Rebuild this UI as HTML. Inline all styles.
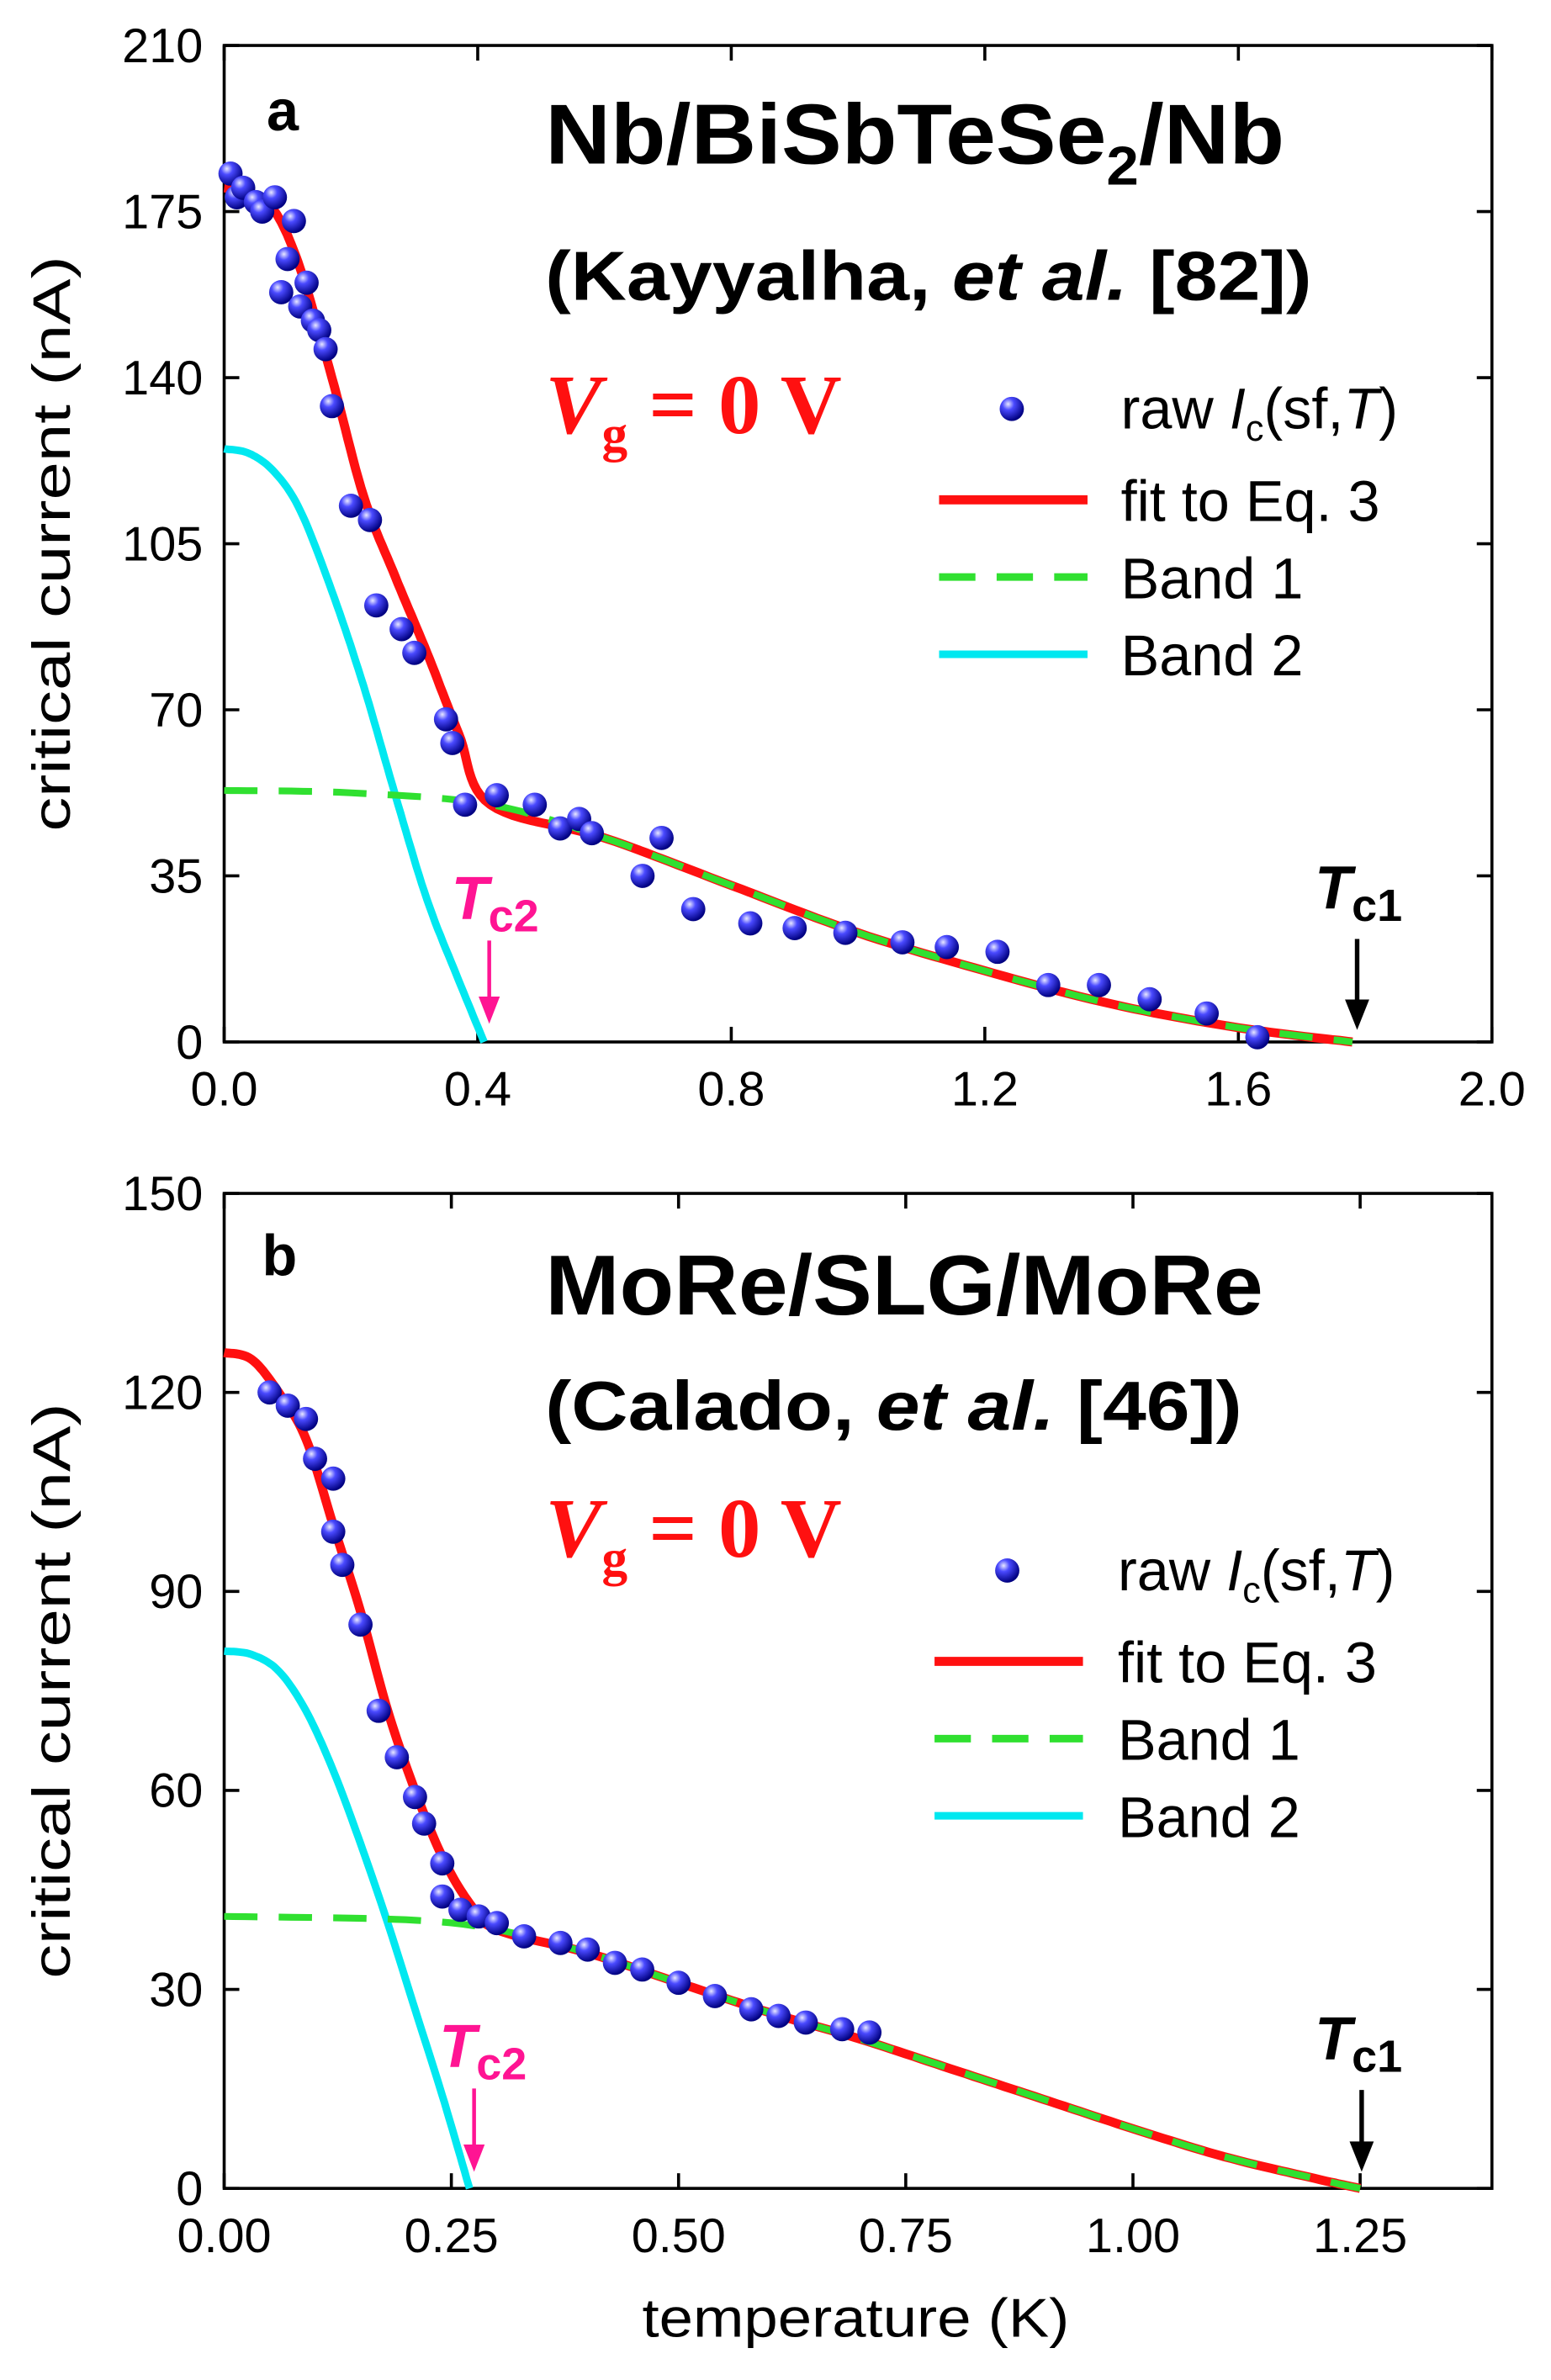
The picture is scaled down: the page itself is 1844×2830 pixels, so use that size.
<!DOCTYPE html>
<html><head><meta charset="utf-8">
<style>html,body{margin:0;padding:0;background:#fff}svg{display:block}</style>
</head><body>
<svg id="s" width="1844" height="2830" viewBox="0 0 1024 1571.5" xmlns="http://www.w3.org/2000/svg" font-family="Liberation Sans, sans-serif">
<defs>
<radialGradient id="ball" cx="35%" cy="30%" r="70%">
<stop offset="0" stop-color="#e8e8ff"/><stop offset="0.35" stop-color="#4a4aff"/><stop offset="1" stop-color="#000080"/>
</radialGradient>
</defs>
<g id="g"></g>
</svg>
<script>
const NS="http://www.w3.org/2000/svg";const G=document.getElementById('g');
function el(t,a,txt){const e=document.createElementNS(NS,t);for(const k in a)e.setAttribute(k,a[k]);if(txt!==undefined)e.innerHTML=txt;G.appendChild(e);return e;}
function cr(pts,n){const o=[];for(let i=0;i<pts.length-1;i++){const p0=pts[Math.max(0,i-1)],p1=pts[i],p2=pts[i+1],p3=pts[Math.min(pts.length-1,i+2)];for(let j=0;j<n;j++){const t=j/n,t2=t*t,t3=t2*t;const f=k=>0.5*((2*p1[k])+(-p0[k]+p2[k])*t+(2*p0[k]-5*p1[k]+4*p2[k]-p3[k])*t2+(-p0[k]+3*p1[k]-3*p2[k]+p3[k])*t3);o.push([f(0),f(1)]);}}o.push(pts[pts.length-1]);return o;}
function panel(P){
 const X=v=>P.x0+(v-P.xmin)/(P.xmax-P.xmin)*(P.x1-P.x0);
 const Y=v=>P.y0-(v)/(P.ymax)*(P.y0-P.y1);
 const path=(pts,attrs)=>{const c=cr(pts,12).map(p=>[X(p[0]),Y(p[1])]);el('path',Object.assign({d:'M'+c.map(p=>p[0].toFixed(1)+','+p[1].toFixed(1)).join('L'),fill:'none'},attrs));};
 el('rect',{x:P.x0,y:P.y1,width:P.x1-P.x0,height:P.y0-P.y1,fill:'none',stroke:'#000','stroke-width':2});
 P.yt.forEach(v=>{const y=Y(v);el('line',{x1:P.x0,x2:P.x0+10,y1:y,y2:y,stroke:'#000','stroke-width':2});el('line',{x1:P.x1,x2:P.x1-10,y1:y,y2:y,stroke:'#000','stroke-width':2});el('text',{x:P.x0-14,y:y+11,'text-anchor':'end','font-size':32},v);});
 P.xt.forEach(v=>{const x=X(v);el('line',{x1:x,x2:x,y1:P.y0,y2:P.y0-10,stroke:'#000','stroke-width':2});el('line',{x1:x,x2:x,y1:P.y1,y2:P.y1+10,stroke:'#000','stroke-width':2});el('text',{x:x,y:P.y0+42,'text-anchor':'middle','font-size':32},P.fmt(v));});
 el('text',{x:0,y:0,transform:`translate(46,${(P.y0+P.y1)/2}) rotate(-90)`,'text-anchor':'middle','font-size':35,textLength:380,lengthAdjust:'spacingAndGlyphs'},'critical current (nA)');
 path(P.b2,{stroke:'#00e8f0','stroke-width':5});
 path(P.fit.concat(P.b1.filter(p=>p[0]>P.fit[P.fit.length-1][0])),{stroke:'#ff1010','stroke-width':6});
 path(P.b1,{stroke:'#30e030','stroke-width':4.5,'stroke-dasharray':'22,14'});
 P.d.forEach(p=>el('circle',{cx:X(p[0]),cy:Y(p[1]),r:8,fill:'url(#ball)'}));
}
const fa=v=>v.toFixed(1), fb=v=>v.toFixed(2);
panel({x0:148,x1:985,y0:688,y1:30,xmin:0,xmax:2,ymax:210,yt:[0,35,70,105,140,175,210],xt:[0,0.4,0.8,1.2,1.6,2.0],fmt:fa,
 b1:[[0,53],[0.2,52.5],[0.42,50],[0.6,43],[0.8,33],[1.0,23],[1.2,15],[1.4,8],[1.6,3],[1.78,0]],
 b2:[[0,125],[0.04,124],[0.08,120],[0.12,112],[0.17,95],[0.22,75],[0.27,52],[0.32,30],[0.37,13],[0.41,0]],
 fit:[[0,180],[0.04,179],[0.08,175],[0.12,163],[0.17,140],[0.22,115],[0.27,98],[0.32,82],[0.37,65],[0.42,50]],
 d:[[0.01,183],[0.02,178],[0.03,180],[0.05,177],[0.06,175],[0.08,178],[0.09,158],[0.1,165],[0.11,173],[0.12,155],[0.13,160],[0.14,152],[0.15,150],[0.16,146],[0.17,134],[0.2,113],[0.23,110],[0.24,92],[0.28,87],[0.3,82],[0.35,68],[0.36,63],[0.38,50],[0.43,52],[0.49,50],[0.53,45],[0.56,47],[0.58,44],[0.66,35],[0.69,43],[0.74,28],[0.83,25],[0.9,24],[0.98,23],[1.07,21],[1.14,20],[1.22,19],[1.3,12],[1.38,12],[1.46,9],[1.55,6],[1.63,1]]});
panel({x0:148,x1:985,y0:1445,y1:788,xmin:0,xmax:1.395,ymax:150,yt:[0,30,60,90,120,150],xt:[0,0.25,0.5,0.75,1.0,1.25],fmt:fb,
 b1:[[0,41],[0.2,40.5],[0.3,39],[0.4,35.5],[0.5,31],[0.6,26.5],[0.7,22.5],[0.8,18],[0.9,13.5],[1.0,9],[1.1,4.8],[1.2,1.5],[1.25,0]],
 b2:[[0,81],[0.03,80.5],[0.06,78],[0.09,72],[0.12,63],[0.15,52],[0.18,40],[0.21,27],[0.24,14],[0.27,0]],
 fit:[[0,126],[0.03,125],[0.06,120],[0.09,113],[0.12,100],[0.15,87],[0.18,72],[0.21,60],[0.24,50],[0.27,43],[0.3,39]],
 d:[[0.05,120],[0.07,118],[0.09,116],[0.1,110],[0.12,107],[0.12,99],[0.13,94],[0.15,85],[0.17,72],[0.19,65],[0.21,59],[0.22,55],[0.24,49],[0.24,44],[0.26,42],[0.28,41],[0.3,40],[0.33,38],[0.37,37],[0.4,36],[0.43,34],[0.46,33],[0.5,31],[0.54,29],[0.58,27],[0.61,26],[0.64,25],[0.68,24],[0.71,23.5]]});
function annot(o){
 el('text',{x:o.lx,y:o.ly,'font-size':38,'font-weight':'bold'},o.lab);
 el('text',{x:360,y:o.ty,'font-size':56,'font-weight':'bold',textLength:o.tl,lengthAdjust:'spacingAndGlyphs'},o.title);
 el('text',{x:360,y:o.sy,'font-size':46,'font-weight':'bold',textLength:o.sl,lengthAdjust:'spacingAndGlyphs'},o.sub);
 el('text',{x:360,y:o.vy,'font-size':56,'font-weight':'bold',fill:'#ff1010','font-family':'Liberation Serif, serif'},'<tspan font-style="italic">V</tspan><tspan font-size="34" dy="12">g</tspan><tspan dy="-12"> = 0 V</tspan>');
 const L=o.L;
 el('circle',{cx:L.mx,cy:L.my,r:8,fill:'url(#ball)'});
 el('line',{x1:L.mx-48,x2:L.mx+50,y1:L.my+60,y2:L.my+60,stroke:'#ff1010','stroke-width':6});
 el('line',{x1:L.mx-48,x2:L.mx+50,y1:L.my+111,y2:L.my+111,stroke:'#30e030','stroke-width':5,'stroke-dasharray':'24,14'});
 el('line',{x1:L.mx-48,x2:L.mx+50,y1:L.my+162,y2:L.my+162,stroke:'#00e8f0','stroke-width':5});
 el('text',{x:L.tx,y:L.my+13,'font-size':38},'raw <tspan font-style="italic">I</tspan><tspan font-size="24" dy="8">c</tspan><tspan dy="-8">(sf,</tspan><tspan font-style="italic">T</tspan>)');
 el('text',{x:L.tx,y:L.my+74,'font-size':38},'fit to Eq. 3');
 el('text',{x:L.tx,y:L.my+125,'font-size':38},'Band 1');
 el('text',{x:L.tx,y:L.my+176,'font-size':38},'Band 2');
 el('text',{x:o.t2x,y:o.t2y,'font-size':40,'font-weight':'bold','font-style':'italic',fill:'#ff1493'},'T<tspan font-size="30" dy="8" font-style="normal">c2</tspan>');
 el('line',{x1:o.a2x,x2:o.a2x,y1:o.t2y+14,y2:o.ay2-4,stroke:'#ff1493','stroke-width':2.5});
 el('path',{d:`M${o.a2x-7},${o.ay2-18}L${o.a2x},${o.ay2}L${o.a2x+7},${o.ay2-18}Z`,fill:'#ff1493'});
 el('text',{x:o.t1x,y:o.t1y,'font-size':40,'font-weight':'bold','font-style':'italic'},'T<tspan font-size="30" dy="8" font-style="normal">c1</tspan>');
 el('line',{x1:o.a1x,x2:o.a1x,y1:o.t1y+20,y2:o.ay1-4,stroke:'#000','stroke-width':3});
 el('path',{d:`M${o.a1x-8},${o.ay1-20}L${o.a1x},${o.ay1}L${o.a1x+8},${o.ay1-20}Z`,fill:'#000'});
}
annot({lx:176,ly:86,lab:'a',ty:108,tl:488,title:'Nb/BiSbTeSe<tspan font-size="36" dy="14">2</tspan><tspan dy="-14">/Nb</tspan>',sy:198,sl:506,sub:'(Kayyalha, <tspan font-style="italic">et al.</tspan> [82])',vy:286,L:{mx:668,my:270,tx:740},t2x:298,t2y:607,a2x:323,ay2:676,t1x:868,t1y:600,a1x:896,ay1:680});
annot({lx:173,ly:842,lab:'b',ty:868,tl:474,title:'MoRe/SLG/MoRe',sy:944,sl:460,sub:'(Calado, <tspan font-style="italic">et al.</tspan> [46])',vy:1028,L:{mx:665,my:1037,tx:738},t2x:290,t2y:1365,a2x:313,ay2:1434,t1x:868,t1y:1360,a1x:899,ay1:1434});
el('text',{x:565,y:1543,'text-anchor':'middle','font-size':36,textLength:282,lengthAdjust:'spacingAndGlyphs'},'temperature (K)');
</script>
</body></html>
